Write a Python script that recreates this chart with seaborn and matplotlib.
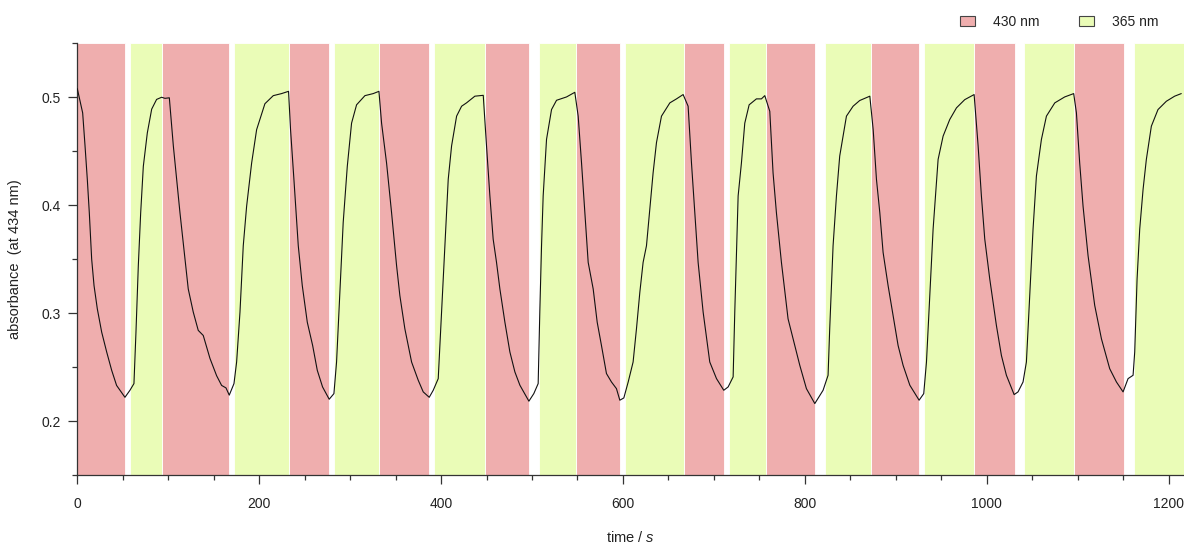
import matplotlib
matplotlib.use("Agg")
import matplotlib.pyplot as plt
import seaborn as sns
import pandas as pd
from matplotlib.patches import Patch

# ---- data ----
time_s = [0, 5.9, 8.5, 11, 13.2, 15.8, 18.4, 22, 26.8, 32.3, 37.8, 43.2, 52.4, 57.9, 62.3,
          64.5, 67.1, 69.7, 72.6, 77, 81.8, 87.2, 92.7, 96.4, 101.2, 105.6, 109.2, 112.9,
          118.4, 122, 127.5, 133, 138.5, 145.9, 153.2, 158.7, 163.5, 167.1, 172.3, 175.2,
          178.9, 182.5, 186.2, 191.7, 197.2, 206.3, 215.5, 224.6, 232.3, 234.5, 238.2, 243,
          247.4, 252.9, 258.8, 263.9, 269.7, 277, 282.2, 285.1, 288.8, 292.4, 296.9, 301.6,
          307.1, 316.3, 325.4, 331.7, 334.6, 340.1, 345.6, 351.1, 354.7, 360.2, 367.6, 374.9,
          380.4, 387, 391.4, 396.9, 400.6, 404.2, 407.9, 411.6, 417.1, 422.6, 428, 437.2,
          446.4, 450, 453.7, 457.3, 461, 464.7, 470.2, 475.7, 481.2, 486.7, 496.6, 502, 506.8,
          508.6, 510.5, 512.3, 516, 521.5, 527, 538, 547.1, 550.8, 554.5, 558.1, 561.8, 567.3,
          571.7, 576.4, 581.9, 587.4, 592.9, 596.6, 601, 605.8, 611.2, 614.9, 618.6, 622.2,
          625.9, 629.6, 633.2, 636.9, 642.4, 651.6, 658.9, 666.2, 671.7, 675.4, 679, 682.7,
          688.2, 695.5, 702.9, 710.9, 715.7, 721.2, 723, 726.7, 730.3, 734, 738.8, 746.8,
          752.3, 756, 761.5, 765.1, 768.8, 774.3, 781.6, 789, 794.5, 801.8, 811, 820.1, 825.6,
          827.4, 831.1, 834.8, 838.4, 845.8, 853.1, 860.4, 871.5, 875.2, 878.8, 882.5, 886.1,
          891.6, 897.1, 902.6, 908.1, 915.5, 925.7, 930.8, 933.8, 937.4, 941.1, 946.6, 952.1,
          959.4, 966.8, 975.9, 981.4, 986.2, 990.6, 994.2, 997.9, 1003.4, 1010.7, 1016.2,
          1021.7, 1030.2, 1034.5, 1040, 1043.7, 1047.4, 1051, 1054.7, 1060.2, 1065.7, 1074.9,
          1085.8, 1095.7, 1098.7, 1102.3, 1106, 1111.5, 1118.8, 1126.2, 1135.3, 1142.7, 1150,
          1155.5, 1161, 1162.8, 1165.4, 1168.3, 1172, 1175.6, 1181.1, 1188.4, 1197.6, 1206.7,
          1214]
absorbance = [0.508, 0.4855, 0.455, 0.424, 0.393, 0.350, 0.3255, 0.304, 0.2824, 0.264, 0.247,
              0.233, 0.222, 0.2285, 0.2347, 0.282, 0.344, 0.393, 0.436, 0.467, 0.489, 0.498,
              0.500, 0.499, 0.4995, 0.455, 0.424, 0.393, 0.350, 0.3224, 0.301, 0.284, 0.2793,
              0.258, 0.242, 0.233, 0.2307, 0.224, 0.2347, 0.2547, 0.301, 0.3624, 0.399, 0.439,
              0.470, 0.494, 0.5015, 0.5034, 0.5055, 0.470, 0.424, 0.3624, 0.3255, 0.2916, 0.270,
              0.247, 0.2316, 0.2202, 0.2254, 0.2547, 0.3193, 0.384, 0.436, 0.476, 0.493, 0.5015,
              0.5034, 0.5055, 0.476, 0.439, 0.393, 0.344, 0.3163, 0.2855, 0.2547, 0.2378, 0.227,
              0.222, 0.2285, 0.2393, 0.301, 0.3624, 0.424, 0.455, 0.4825, 0.4917, 0.4948, 0.501,
              0.5018, 0.455, 0.4086, 0.3686, 0.347, 0.3224, 0.2916, 0.264, 0.2455, 0.2332,
              0.2184, 0.2254, 0.2347, 0.301, 0.3624, 0.4086, 0.461, 0.4886, 0.4972, 0.5003,
              0.5046, 0.4825, 0.439, 0.393, 0.347, 0.3224, 0.2916, 0.270, 0.244, 0.2362, 0.230,
              0.2193, 0.2214, 0.2362, 0.2547, 0.2855, 0.3193, 0.347, 0.3624, 0.3963, 0.430,
              0.458, 0.4825, 0.4948, 0.4985, 0.5025, 0.4917, 0.439, 0.393, 0.347, 0.301, 0.2547,
              0.2393, 0.2285, 0.2316, 0.2409, 0.301, 0.4086, 0.439, 0.476, 0.493, 0.4985,
              0.4985, 0.5015, 0.487, 0.430, 0.393, 0.347, 0.2947, 0.270, 0.2516, 0.230, 0.2162,
              0.2285, 0.2424, 0.2855, 0.3624, 0.4086, 0.4455, 0.4825, 0.4917, 0.497, 0.501,
              0.470, 0.424, 0.393, 0.3563, 0.3255, 0.2978, 0.270, 0.2516, 0.2332, 0.2193,
              0.2254, 0.2547, 0.3163, 0.3778, 0.4424, 0.4640, 0.4794, 0.4902, 0.4978, 0.5003,
              0.5025, 0.455, 0.4086, 0.3686, 0.3316, 0.2886, 0.2608, 0.2424, 0.2245, 0.2270,
              0.2362, 0.2547, 0.3163, 0.3778, 0.427, 0.4609, 0.4825, 0.4948, 0.5003, 0.5034,
              0.4855, 0.439, 0.399, 0.3532, 0.3072, 0.2762, 0.2485, 0.2362, 0.227, 0.2393,
              0.2424, 0.2639, 0.3316, 0.3778, 0.4147, 0.4424, 0.4732, 0.4886, 0.4963, 0.501,
              0.5034]

red_starts = [0, 92.8, 232.5, 332, 448, 548, 667.2, 757.2, 872.5, 986.3, 1096.3]
red_ends = [52.5, 167.1, 276.7, 386.6, 496.6, 596.3, 711, 811, 925.4, 1030.7, 1151]
green_starts = [58, 172.8, 282.2, 392.3, 507.4, 602.1, 716.8, 822, 931.4, 1041.5, 1161.7]
green_ends = [92.8, 232.5, 332, 448, 548, 667.2, 757.2, 872.5, 986.3, 1096.3, 1217]

legend_labels = ["430 nm", "365 nm"]
x_ticks = [0, 200, 400, 600, 800, 1000, 1200]
y_ticks = [0.2, 0.3, 0.4, 0.5]

RED = "#EFAEAE"
GREEN = "#EAFCB7"
TXT = "#222222"

sns.set_style("ticks")
plt.rcParams["font.family"] = ["Liberation Sans", "DejaVu Sans"]
plt.rcParams["mathtext.fontset"] = "custom"
plt.rcParams["mathtext.it"] = "Liberation Sans:italic"
plt.rcParams["mathtext.rm"] = "Liberation Sans"

fig = plt.figure(figsize=(11.84, 5.44), dpi=100)
ax = fig.add_axes([77.3 / 1184, 1 - 475 / 544, 1 - 77.3 / 1184, (475 - 43.3) / 544])

for s, e in zip(red_starts, red_ends):
    ax.axvspan(s, e, facecolor=RED, edgecolor="white", linewidth=0.6, zorder=0)
for s, e in zip(green_starts, green_ends):
    ax.axvspan(s, e, facecolor=GREEN, edgecolor="white", linewidth=0.6, zorder=0)

df = pd.DataFrame({"time": time_s, "abs": absorbance})
sns.lineplot(data=df, x="time", y="abs", ax=ax, color="#111111", linewidth=0.8,
             estimator=None, sort=False, zorder=3)

ax.set_xlim(0, 1217)
ax.set_ylim(0.1517, 0.550)
ax.set_xticks(x_ticks)
ax.set_xticks(list(range(0, 1217, 50)), minor=True)
ax.set_yticks(y_ticks)
ax.set_yticks([0.15, 0.2, 0.25, 0.3, 0.35, 0.4, 0.45, 0.5, 0.55], minor=True)
ax.set_yticklabels(["0.2", "0.3", "0.4", "0.5"])
ax.tick_params(axis="both", which="major", direction="out", length=6.5, width=0.9,
               colors="#333333", labelcolor=TXT, labelsize=10)
ax.tick_params(axis="both", which="minor", direction="out", length=3.5, width=0.9,
               colors="#333333")
ax.tick_params(axis="x", which="major", pad=9)
ax.tick_params(axis="y", which="major", pad=5.5)

for side in ["top", "right"]:
    ax.spines[side].set_visible(False)
for side in ["left", "bottom"]:
    ax.spines[side].set_color("#333333")
    ax.spines[side].set_linewidth(0.9)
ax.set_axisbelow(False)

ax.set_xlabel(r"time / $\it{s}$", fontsize=10.5, color=TXT)
ax.set_ylabel("absorbance  (at 434 nm)", fontsize=10.5, color=TXT)
ax.xaxis.set_label_coords(0.5, -0.127)
ax.yaxis.set_label_coords(-0.0502, 0.5)

handles = [Patch(facecolor=RED, edgecolor="#444444", linewidth=0.8),
           Patch(facecolor=GREEN, edgecolor="#444444", linewidth=0.8)]
fig.legend(handles, legend_labels, loc="center left",
           bbox_to_anchor=(960 / 1184, 1 - 22 / 544), ncol=2, frameon=False,
           fontsize=10, handlelength=1.05, handleheight=0.65, handletextpad=1.3,
           columnspacing=2.9, borderpad=0, borderaxespad=0, labelcolor=TXT)

fig.savefig("out.png", dpi=100)
